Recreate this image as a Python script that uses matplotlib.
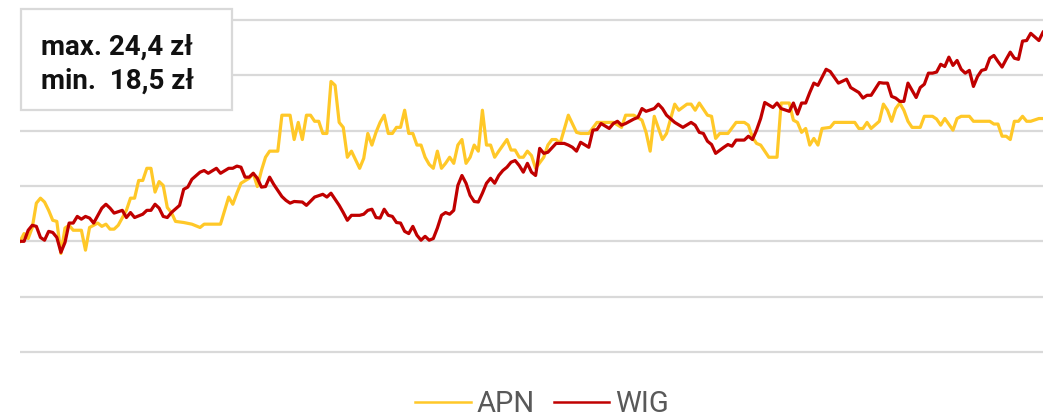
import matplotlib
matplotlib.use("Agg")
import matplotlib.pyplot as plt
from matplotlib.patches import Rectangle

# APN vs WIG, both rebased to 100 at start
apn_days = [0, 1, 2, 3, 4, 5, 6, 7, 8, 9, 10, 11, 12, 13, 15, 16, 17, 19, 20, 21,
            22, 23, 24, 26, 27, 28, 29, 30, 31, 32, 33, 34, 35, 36, 37, 38, 40, 42, 44, 45,
            49, 51, 52, 53, 54, 56, 57, 58, 59, 60, 61, 63, 64, 66, 67, 68, 69, 70, 71, 72,
            73, 74, 75, 76, 77, 78, 79, 80, 81, 83, 84, 85, 86, 87, 88, 89, 90, 91, 92, 93,
            94, 95, 96, 97, 98, 99, 100, 101, 102, 103, 104, 105, 106, 107, 108, 109, 110, 111, 112, 113,
            114, 115, 116, 117, 119, 120, 121, 122, 123, 124, 125, 126, 128, 129, 130, 131, 132, 134, 136, 137,
            139, 141, 145, 147, 148, 150, 152, 153, 154, 155, 157, 158, 160, 161, 163, 164, 165, 166, 167, 168,
            169, 170, 171, 173, 175, 177, 178, 179, 180, 181, 183, 185, 186, 188, 189, 190, 191, 192, 193, 194,
            195, 196, 198, 199, 204, 205, 206, 207, 208, 210, 211, 212, 213, 214, 215, 216, 217, 218, 220, 221,
            223, 224, 225, 226, 228, 229, 230, 232, 233, 237, 238, 239, 240, 241, 242, 243, 244, 245, 246, 247,
            249, 250]
apn = [100.0, 101.4, 100.5, 102.5, 106.9, 107.8, 107.1, 105.6, 103.8, 103.6, 97.8, 102.4, 102.9, 102.0, 102.0, 98.4, 102.5, 103.3, 102.7, 103.1,
       102.2, 102.2, 102.9, 105.6, 107.8, 107.8, 111.0, 111.0, 113.2, 113.2, 108.9, 110.8, 110.1, 106.1, 105.2, 103.6, 103.4, 103.1, 102.5, 103.1,
       103.1, 108.0, 106.7, 108.7, 110.5, 111.4, 112.3, 109.9, 112.8, 115.2, 116.3, 116.3, 122.8, 122.8, 118.4, 121.5, 118.4, 122.8, 122.8, 121.7,
       121.7, 119.5, 119.5, 128.9, 128.2, 121.5, 120.6, 115.2, 116.3, 113.2, 115.0, 119.5, 117.4, 119.7, 121.5, 122.8, 119.5, 119.5, 120.6, 120.6,
       123.7, 119.5, 119.5, 117.4, 117.4, 115.2, 113.9, 113.2, 116.3, 113.2, 114.1, 115.2, 114.1, 117.4, 118.4, 114.1, 115.2, 117.4, 116.3, 123.7,
       117.4, 117.4, 115.2, 116.3, 118.4, 116.5, 116.5, 115.2, 115.2, 116.3, 115.5, 113.2, 115.2, 117.4, 118.4, 118.4, 117.7, 122.8, 119.7, 119.5,
       119.5, 121.5, 121.5, 120.6, 122.8, 122.8, 121.9, 119.7, 116.3, 122.6, 118.4, 119.5, 124.8, 123.7, 124.8, 124.8, 123.7, 125.0, 123.9, 122.8,
       122.6, 118.6, 119.5, 119.5, 121.5, 121.5, 121.0, 118.8, 117.7, 117.4, 115.2, 115.2, 125.0, 125.0, 121.9, 121.5, 119.7, 120.4, 117.4, 118.6,
       117.4, 120.4, 120.6, 121.5, 121.5, 120.4, 120.4, 121.5, 120.4, 121.7, 124.8, 123.7, 121.7, 124.0, 125.0, 123.7, 121.7, 120.6, 120.6, 122.6,
       122.6, 122.1, 121.0, 122.2, 120.1, 122.2, 122.6, 122.6, 121.7, 121.7, 121.2, 121.2, 119.0, 119.0, 118.4, 121.7, 121.7, 122.6, 121.7, 121.7,
       122.2, 122.2]

wig_days = [0, 1, 2, 3, 4, 5, 6, 7, 8, 9, 10, 11, 12, 13, 14, 15, 16, 17, 18, 20,
            21, 22, 23, 25, 26, 27, 28, 30, 31, 32, 33, 34, 35, 36, 37, 39, 40, 41, 42, 44,
            45, 46, 48, 49, 51, 52, 53, 54, 55, 56, 57, 58, 59, 60, 61, 62, 64, 65, 66, 67,
            69, 70, 72, 74, 75, 76, 77, 78, 79, 80, 81, 83, 84, 85, 86, 87, 88, 89, 90, 91,
            92, 93, 94, 95, 96, 97, 98, 99, 100, 101, 102, 103, 104, 105, 106, 107, 108, 109, 110, 111,
            112, 113, 114, 115, 116, 117, 118, 119, 120, 121, 122, 123, 124, 125, 126, 127, 128, 129, 131, 133,
            134, 135, 136, 137, 139, 140, 141, 142, 144, 145, 146, 147, 148, 150, 151, 152, 153, 155, 156, 157,
            158, 160, 162, 164, 165, 166, 167, 168, 169, 170, 172, 173, 174, 175, 177, 178, 179, 180, 181, 182,
            184, 185, 186, 188, 189, 190, 191, 192, 193, 194, 195, 197, 198, 200, 202, 203, 205, 206, 207, 208,
            210, 211, 212, 213, 214, 215, 216, 217, 218, 219, 220, 221, 222, 223, 224, 225, 226, 227, 228, 229,
            230, 231, 232, 233, 234, 235, 236, 237, 238, 239, 240, 241, 242, 243, 244, 245, 246, 247, 249, 250]
wig = [100.0, 100.0, 102.0, 102.9, 102.7, 100.7, 100.2, 101.8, 101.6, 100.7, 98.0, 99.8, 103.3, 103.3, 104.5, 104.0, 104.5, 104.2, 103.3, 106.0,
       106.7, 106.0, 105.1, 105.6, 104.3, 105.2, 104.3, 104.9, 105.6, 105.6, 106.7, 106.0, 104.5, 104.3, 105.2, 106.5, 109.4, 109.8, 111.2, 112.5,
       112.8, 112.3, 113.2, 112.3, 113.2, 113.2, 113.6, 113.4, 111.6, 111.6, 112.3, 111.4, 109.8, 109.9, 111.6, 110.3, 108.1, 107.4, 106.9, 107.2,
       107.1, 106.5, 108.0, 108.5, 108.0, 108.7, 107.6, 106.5, 105.2, 103.8, 104.7, 104.7, 104.9, 105.6, 105.8, 104.3, 104.2, 105.8, 104.7, 104.5,
       103.4, 103.3, 101.8, 101.4, 102.7, 101.1, 100.2, 100.9, 100.2, 100.5, 102.4, 104.7, 105.2, 104.9, 105.6, 110.1, 111.9, 110.5, 108.3, 107.2,
       107.1, 108.7, 110.5, 111.4, 110.5, 111.9, 112.8, 113.4, 114.3, 114.6, 113.7, 112.5, 114.1, 112.5, 111.9, 116.8, 115.9, 116.1, 117.7, 117.7,
       117.4, 117.0, 116.3, 117.9, 117.0, 120.1, 120.2, 121.3, 120.4, 121.3, 121.7, 121.0, 121.3, 122.1, 122.4, 124.0, 123.5, 124.0, 124.8, 124.0,
       122.8, 121.5, 120.6, 121.5, 121.0, 119.7, 119.5, 118.1, 117.5, 115.9, 117.0, 117.5, 117.2, 118.3, 118.3, 119.0, 118.4, 120.1, 122.2, 125.1,
       124.2, 125.0, 124.0, 123.5, 125.0, 123.0, 125.0, 125.0, 126.9, 128.6, 128.2, 131.1, 130.7, 128.6, 129.3, 127.8, 126.9, 125.9, 126.4, 126.4,
       128.7, 128.6, 128.6, 126.2, 125.9, 125.3, 125.3, 128.6, 127.3, 126.0, 127.8, 128.4, 130.4, 130.4, 130.6, 132.0, 131.6, 133.3, 131.8, 132.7,
       131.1, 130.4, 130.9, 128.0, 129.8, 130.9, 131.1, 133.1, 133.6, 132.5, 131.5, 132.9, 134.2, 133.1, 132.9, 136.2, 136.3, 137.6, 136.3, 137.8]

grid_levels = [80, 90, 100, 110, 120, 130, 140]

fig = plt.figure(figsize=(10.43, 4.18), dpi=100)
ax = fig.add_axes([20 / 1043, 55 / 418, 1023 / 1043, 354 / 418])
ax.set_xlim(0, 250)
ax.set_ylim(78, 142)

for g in grid_levels:
    ax.axhline(g, color='#d9d9d9', lw=1.6, zorder=0)

ax.plot(apn_days, apn, color='#FFC828', lw=2.3, label='APN', solid_joinstyle='round')
ax.plot(wig_days, wig, color='#C00000', lw=2.3, label='WIG', solid_joinstyle='round')

for s in ax.spines.values():
    s.set_visible(False)
ax.set_xticks([])
ax.set_yticks([])

# info box in the top left corner
fig.patches.append(Rectangle((21 / 1043, 308 / 418), 211 / 1043, 101 / 418,
                             transform=fig.transFigure, facecolor='white',
                             edgecolor='#d9d9d9', lw=1.6, zorder=5))
fig.text(41 / 1043, 363 / 418, 'max. 24,4 zł', fontsize=20, fontweight='bold',
         family='Roboto', va='baseline', color='#111111', zorder=6)
fig.text(41 / 1043, 329 / 418, 'min.  18,5 zł', fontsize=20, fontweight='bold',
         family='Roboto', va='baseline', color='#111111', zorder=6)

leg = fig.legend(loc='center', bbox_to_anchor=(542 / 1043, 14 / 418), ncol=2, frameon=False,
                 prop={'family': 'Roboto', 'size': 21}, handlelength=1.9,
                 handletextpad=0.2, columnspacing=0.65, borderaxespad=0)
for t in leg.get_texts():
    t.set_color('#595959')
for l in leg.get_lines():
    l.set_linewidth(1.8)

fig.savefig('out.png', dpi=100)
